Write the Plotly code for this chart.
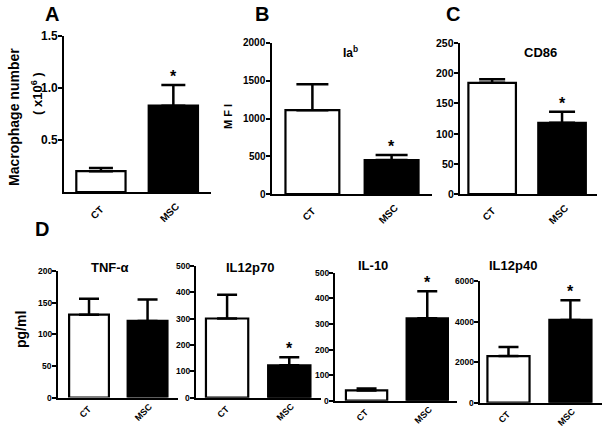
import plotly.graph_objects as go

cats = ["CT", "MSC"]
# Panel A: macrophage number (x10^6)
A_mean = [0.20, 0.83]
A_err = [0.03, 0.20]
# Panel B: Ia^b MFI
B_mean = [1110, 450]
B_err = [345, 65]
# Panel C: CD86
C_mean = [184, 118]
C_err = [6, 18]
# Panel D: cytokines (pg/ml)
TNF_mean = [131, 121]
TNF_err = [25, 34]
IL12p70_mean = [300, 123]
IL12p70_err = [90, 30]
IL10_mean = [40, 322]
IL10_err = [8, 106]
IL12p40_mean = [2300, 4080]
IL12p40_err = [450, 970]

# y tick values per panel
A_ticks = [0.5, 1.0, 1.5]
B_ticks = [0, 500, 1000, 1500, 2000]
C_ticks = [0, 50, 100, 150, 200, 250]
TNF_ticks = [0, 50, 100, 150, 200]
IL12p70_ticks = [0, 100, 200, 300, 400, 500]
IL10_ticks = [0, 100, 200, 300, 400, 500]
IL12p40_ticks = [0, 2000, 4000, 6000]

W, H = 604, 428
FONT = "Liberation Sans"

def px_x(a, b):
    return [a / W, b / W]

def px_y(top, bottom):
    return [1 - bottom / H, 1 - top / H]

panels = [
    dict(mean=A_mean, err=A_err, star=[1], xd=(64, 211), yd=(36, 192), yr=[0, 1.5],
         tv=A_ticks, fmt="{:.1f}", xr=[-0.51, 1.52], yts=12, xts=10, cap=12, top=True),
    dict(mean=B_mean, err=B_err, star=[1], xd=(272, 432), yd=(43, 194), yr=[0, 2000],
         tv=B_ticks, fmt="{:d}", xr=[-0.51, 1.51], yts=10, xts=10, cap=16, top=True),
    dict(mean=C_mean, err=C_err, star=[1], xd=(460, 597), yd=(43, 194), yr=[0, 250],
         tv=C_ticks, fmt="{:d}", xr=[-0.46, 1.5], yts=10.5, xts=10, cap=13, top=True),
    dict(mean=TNF_mean, err=TNF_err, star=[], xd=(58, 178), yd=(271, 397.5), yr=[0, 200],
         tv=TNF_ticks, fmt="{:d}", xr=[-0.53, 1.52], yts=8.5, xts=9, cap=10, top=False),
    dict(mean=IL12p70_mean, err=IL12p70_err, star=[1], xd=(196, 321), yd=(265.7, 397.7), yr=[0, 500],
         tv=IL12p70_ticks, fmt="{:d}", xr=[-0.5, 1.51], yts=8.5, xts=9, cap=10, top=False),
    dict(mean=IL10_mean, err=IL10_err, star=[1], xd=(335, 457), yd=(272.7, 400.7), yr=[0, 500],
         tv=IL10_ticks, fmt="{:d}", xr=[-0.52, 1.49], yts=8.5, xts=9, cap=10, top=False),
    dict(mean=IL12p40_mean, err=IL12p40_err, star=[1], xd=(480, 602), yd=(281, 402.7), yr=[0, 6000],
         tv=IL12p40_ticks, fmt="{:d}", xr=[-0.46, 1.51], yts=8.5, xts=9, cap=10, top=False),
]

fig = go.Figure()
layout = dict(
    width=W, height=H, margin=dict(l=0, r=0, t=0, b=0),
    paper_bgcolor="white", plot_bgcolor="white", showlegend=False,
    font=dict(family=FONT, color="black"),
)
annotations = []

for i, p in enumerate(panels):
    n = "" if i == 0 else str(i + 1)
    xa, ya = "x" + n, "y" + n
    fig.add_trace(go.Bar(
        x=[0, 1], y=p["mean"], xaxis=xa, yaxis=ya, width=0.68,
        marker=dict(color=["white", "black"], line=dict(color="black", width=2.2)),
        error_y=dict(type="data", symmetric=False, array=p["err"], arrayminus=[0, 0],
                     color="black", thickness=2.5, width=p["cap"]),
        hoverinfo="skip",
    ))
    xdom = px_x(*p["xd"])
    layout["xaxis" + n] = dict(
        domain=xdom, anchor=ya, range=p["xr"], showline=True, linecolor="black",
        linewidth=2, ticks="", showticklabels=False,
        showgrid=False, zeroline=False, fixedrange=True,
    )
    layout["yaxis" + n] = dict(
        domain=px_y(*p["yd"]), anchor=xa, range=p["yr"], showline=True, linecolor="black",
        linewidth=2, ticks="outside", ticklen=4, tickwidth=1.5, tickcolor="black",
        tickmode="array", tickvals=p["tv"], showticklabels=False,
        showgrid=False, zeroline=False, fixedrange=True,
    )
    # bold y tick labels at the axis tick positions
    for v in p["tv"]:
        annotations.append(dict(
            x=xdom[0], y=v, xref="paper", yref=ya, text="<b>%s</b>" % p["fmt"].format(v),
            showarrow=False, xanchor="right", yanchor="middle", xshift=-4,
            font=dict(family=FONT, size=p["yts"], color="black"),
        ))
    # rotated category labels at the category positions
    for j, c in enumerate(cats):
        annotations.append(dict(
            x=j, y=0, xref=xa, yref=ya, text="<b>%s</b>" % c, textangle=-45,
            showarrow=False, yshift=-20 if p["top"] else -14, xshift=-4,
            font=dict(family=FONT, size=p["xts"], color="black"),
        ))
    for j in p["star"]:
        annotations.append(dict(
            x=j, y=p["mean"][j] + p["err"][j], xref=xa, yref=ya, text="<b>*</b>",
            showarrow=False, yanchor="bottom", yshift=-2,
            font=dict(family=FONT, size=16, color="black"),
        ))

def pa(text, x, y, size, angle=0):
    annotations.append(dict(
        x=x / W, y=1 - y / H, xref="paper", yref="paper", text=text, showarrow=False,
        xanchor="center", yanchor="middle", textangle=angle,
        font=dict(family=FONT, size=size, color="black"),
    ))

pa("<b>A</b>", 52, 14, 20)
pa("<b>B</b>", 262, 14, 20)
pa("<b>C</b>", 453, 14, 20)
pa("<b>D</b>", 42, 229, 20)
pa("<b>Ia<sup>b</sup></b>", 350, 52, 12)
pa("<b>CD86</b>", 540, 52, 13)
pa("<b>TNF-α</b>", 110, 267, 13)
pa("<b>IL12p70</b>", 250, 267, 13)
pa("<b>IL-10</b>", 373, 265, 13)
pa("<b>IL12p40</b>", 513, 265, 13)
pa("<b>Macrophage number</b>", 14, 117, 14, -90)
pa("<b>( x10<sup>6</sup> )</b>", 37, 94, 13, -90)
pa("<b>M F I</b>", 228, 117, 11, -90)
pa("<b>pg/ml</b>", 21, 330, 14, -90)

layout["annotations"] = annotations
fig.update_layout(**layout)
fig.write_html(
    "out.html",
    config={"displayModeBar": False},
    post_script="document.body.style.margin='0';document.body.style.overflow='hidden';",
)
